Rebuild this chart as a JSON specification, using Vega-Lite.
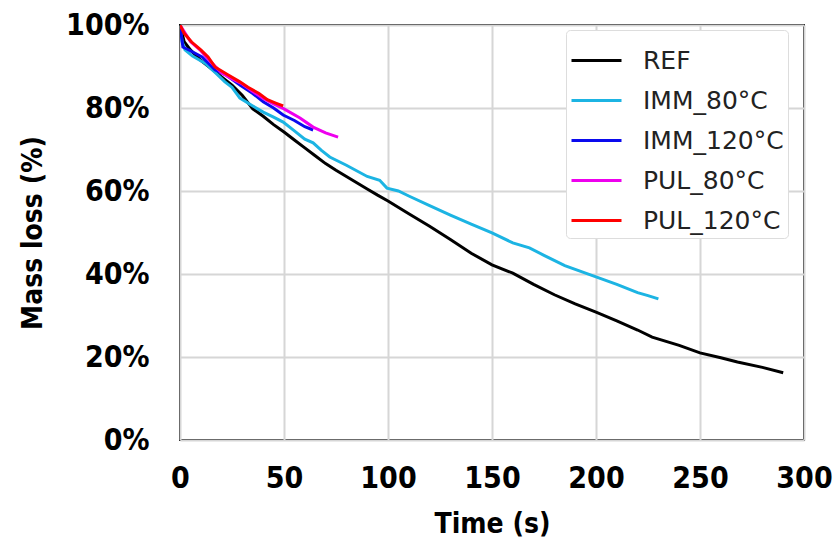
{
  "$schema": "https://vega.github.io/schema/vega-lite/v6.json",
  "width": 624,
  "height": 415,
  "autosize": "none",
  "padding": {"left": 180, "top": 25, "right": 32, "bottom": 102},
  "background": "white",
  "config": {
    "view": {"stroke": "#000000", "strokeWidth": 2},
    "axis": {
      "grid": true,
      "gridColor": "#d6d6d6",
      "gridWidth": 2,
      "domain": false,
      "ticks": false,
      "labelFont": "DejaVu Sans Condensed, DejaVu Sans",
      "labelFontWeight": "bold",
      "labelFontSize": 30,
      "labelColor": "#000000",
      "titleFont": "DejaVu Sans Condensed, DejaVu Sans",
      "titleFontWeight": "bold",
      "titleFontSize": 28,
      "titleColor": "#000000"
    }
  },
  "data": {
    "values": [
      {"s": "REF", "t": 0, "m": 100}, {"s": "REF", "t": 2, "m": 96}, {"s": "REF", "t": 5, "m": 94}, {"s": "REF", "t": 10, "m": 91.5}, {"s": "REF", "t": 15, "m": 89.5}, {"s": "REF", "t": 20, "m": 87.5}, {"s": "REF", "t": 25, "m": 85.5}, {"s": "REF", "t": 30, "m": 83}, {"s": "REF", "t": 35, "m": 79.8}, {"s": "REF", "t": 40, "m": 78}, {"s": "REF", "t": 45, "m": 76}, {"s": "REF", "t": 50, "m": 74.2}, {"s": "REF", "t": 55, "m": 72.3}, {"s": "REF", "t": 60, "m": 70.4}, {"s": "REF", "t": 65, "m": 68.5}, {"s": "REF", "t": 70, "m": 66.6}, {"s": "REF", "t": 75, "m": 65}, {"s": "REF", "t": 80, "m": 63.5}, {"s": "REF", "t": 85, "m": 62}, {"s": "REF", "t": 90, "m": 60.5}, {"s": "REF", "t": 95, "m": 59}, {"s": "REF", "t": 100, "m": 57.6}, {"s": "REF", "t": 110, "m": 54.5}, {"s": "REF", "t": 120, "m": 51.5}, {"s": "REF", "t": 130, "m": 48.3}, {"s": "REF", "t": 140, "m": 45}, {"s": "REF", "t": 150, "m": 42.2}, {"s": "REF", "t": 160, "m": 40.2}, {"s": "REF", "t": 170, "m": 37.5}, {"s": "REF", "t": 180, "m": 35}, {"s": "REF", "t": 190, "m": 32.8}, {"s": "REF", "t": 200, "m": 30.8}, {"s": "REF", "t": 210, "m": 28.7}, {"s": "REF", "t": 220, "m": 26.5}, {"s": "REF", "t": 227, "m": 24.8}, {"s": "REF", "t": 240, "m": 22.8}, {"s": "REF", "t": 250, "m": 21}, {"s": "REF", "t": 260, "m": 19.8}, {"s": "REF", "t": 268, "m": 18.8}, {"s": "REF", "t": 280, "m": 17.5}, {"s": "REF", "t": 290, "m": 16.2},
      {"s": "IMM_80°C", "t": 0, "m": 100}, {"s": "IMM_80°C", "t": 1, "m": 96}, {"s": "IMM_80°C", "t": 2.4, "m": 94}, {"s": "IMM_80°C", "t": 6, "m": 92.5}, {"s": "IMM_80°C", "t": 12, "m": 90.8}, {"s": "IMM_80°C", "t": 17, "m": 88.5}, {"s": "IMM_80°C", "t": 21.6, "m": 86.3}, {"s": "IMM_80°C", "t": 25, "m": 85}, {"s": "IMM_80°C", "t": 28.8, "m": 82.4}, {"s": "IMM_80°C", "t": 35, "m": 80.5}, {"s": "IMM_80°C", "t": 40, "m": 79}, {"s": "IMM_80°C", "t": 45, "m": 77.8}, {"s": "IMM_80°C", "t": 49.6, "m": 76.6}, {"s": "IMM_80°C", "t": 55, "m": 74.5}, {"s": "IMM_80°C", "t": 60, "m": 72.5}, {"s": "IMM_80°C", "t": 64, "m": 71.6}, {"s": "IMM_80°C", "t": 68, "m": 69.8}, {"s": "IMM_80°C", "t": 72, "m": 68.2}, {"s": "IMM_80°C", "t": 80, "m": 66.2}, {"s": "IMM_80°C", "t": 90, "m": 63.5}, {"s": "IMM_80°C", "t": 96, "m": 62.6}, {"s": "IMM_80°C", "t": 99.5, "m": 60.7}, {"s": "IMM_80°C", "t": 105, "m": 60}, {"s": "IMM_80°C", "t": 110, "m": 58.8}, {"s": "IMM_80°C", "t": 120, "m": 56.5}, {"s": "IMM_80°C", "t": 130, "m": 54.2}, {"s": "IMM_80°C", "t": 140, "m": 52}, {"s": "IMM_80°C", "t": 150, "m": 49.9}, {"s": "IMM_80°C", "t": 160, "m": 47.5}, {"s": "IMM_80°C", "t": 168, "m": 46.3}, {"s": "IMM_80°C", "t": 175, "m": 44.5}, {"s": "IMM_80°C", "t": 185, "m": 42}, {"s": "IMM_80°C", "t": 200, "m": 39.3}, {"s": "IMM_80°C", "t": 210, "m": 37.5}, {"s": "IMM_80°C", "t": 220, "m": 35.5}, {"s": "IMM_80°C", "t": 225, "m": 34.8}, {"s": "IMM_80°C", "t": 230, "m": 34},
      {"s": "IMM_120°C", "t": 0, "m": 100}, {"s": "IMM_120°C", "t": 1.4, "m": 94.7}, {"s": "IMM_120°C", "t": 5, "m": 93.8}, {"s": "IMM_120°C", "t": 10.6, "m": 92.3}, {"s": "IMM_120°C", "t": 16.8, "m": 89.2}, {"s": "IMM_120°C", "t": 22, "m": 88}, {"s": "IMM_120°C", "t": 29, "m": 85.5}, {"s": "IMM_120°C", "t": 35, "m": 83.5}, {"s": "IMM_120°C", "t": 40, "m": 81.5}, {"s": "IMM_120°C", "t": 45, "m": 80}, {"s": "IMM_120°C", "t": 49.6, "m": 78.3}, {"s": "IMM_120°C", "t": 55, "m": 77}, {"s": "IMM_120°C", "t": 60, "m": 75.5}, {"s": "IMM_120°C", "t": 64, "m": 74.7},
      {"s": "PUL_80°C", "t": 0, "m": 100}, {"s": "PUL_80°C", "t": 5, "m": 96}, {"s": "PUL_80°C", "t": 10, "m": 93.8}, {"s": "PUL_80°C", "t": 15, "m": 91}, {"s": "PUL_80°C", "t": 20, "m": 88.5}, {"s": "PUL_80°C", "t": 25, "m": 87}, {"s": "PUL_80°C", "t": 30, "m": 85.8}, {"s": "PUL_80°C", "t": 35, "m": 84}, {"s": "PUL_80°C", "t": 40, "m": 82.3}, {"s": "PUL_80°C", "t": 45, "m": 81}, {"s": "PUL_80°C", "t": 50, "m": 79.8}, {"s": "PUL_80°C", "t": 57.7, "m": 77.6}, {"s": "PUL_80°C", "t": 64, "m": 75.4}, {"s": "PUL_80°C", "t": 70, "m": 74}, {"s": "PUL_80°C", "t": 76, "m": 73},
      {"s": "PUL_120°C", "t": 0, "m": 100}, {"s": "PUL_120°C", "t": 2, "m": 98}, {"s": "PUL_120°C", "t": 5.6, "m": 95.9}, {"s": "PUL_120°C", "t": 10, "m": 94}, {"s": "PUL_120°C", "t": 13.5, "m": 92.3}, {"s": "PUL_120°C", "t": 16.8, "m": 89.9}, {"s": "PUL_120°C", "t": 23, "m": 88}, {"s": "PUL_120°C", "t": 28.8, "m": 86.3}, {"s": "PUL_120°C", "t": 32.7, "m": 85}, {"s": "PUL_120°C", "t": 38, "m": 83.5}, {"s": "PUL_120°C", "t": 42, "m": 82}, {"s": "PUL_120°C", "t": 46, "m": 81.2}, {"s": "PUL_120°C", "t": 49.6, "m": 80.5}
    ]
  },
  "mark": {"type": "line", "strokeWidth": 3, "clip": true},
  "encoding": {
    "x": {
      "field": "t", "type": "quantitative", "title": "Time (s)",
      "scale": {"domain": [0, 300], "nice": false},
      "axis": {"values": [0, 50, 100, 150, 200, 250, 300], "labelPadding": 23, "titlePadding": 17, "labelFlush": false}
    },
    "y": {
      "field": "m", "type": "quantitative", "title": "Mass loss (%)",
      "scale": {"domain": [0, 100], "nice": false},
      "axis": {"values": [0, 20, 40, 60, 80, 100], "labelExpr": "datum.value + '%'", "labelPadding": 31, "titlePadding": 18, "labelFlush": false}
    },
    "color": {
      "field": "s", "type": "nominal",
      "scale": {
        "domain": ["REF", "IMM_80°C", "IMM_120°C", "PUL_80°C", "PUL_120°C"],
        "range": ["#000000", "#1cb4e3", "#0a0aee", "#ee00ee", "#ff0000"]
      },
      "legend": {
        "title": null,
        "orient": "none",
        "legendX": 386,
        "legendY": 5,
        "symbolType": "stroke",
        "symbolSize": 2500,
        "symbolStrokeWidth": 3,
        "labelFont": "DejaVu Sans",
        "labelFontSize": 25,
        "labelColor": "#222222",
        "labelOffset": 20,
        "rowPadding": 0,
        "padding": 4,
        "strokeColor": "#dddddd",
        "fillColor": "#ffffff",
        "cornerRadius": 4
      }
    }
  }
}
